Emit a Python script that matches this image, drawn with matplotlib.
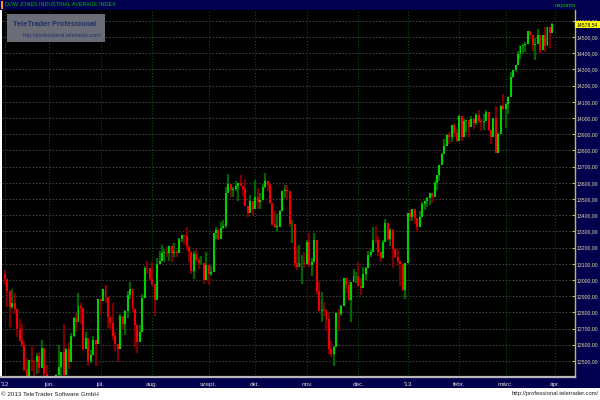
"""Dow Jones daily candles, TeleTrader style (May 2012 - Mar 2013)."""

import numpy as np
import pandas as pd
import matplotlib
matplotlib.use("Agg")
import matplotlib.pyplot as plt
from matplotlib.patches import Rectangle
from matplotlib.ticker import FuncFormatter

# ── data ──
start, end = "2012-05-07", "2013-03-28"
holidays = ["2012-05-28", "2012-07-04", "2012-09-03", "2012-10-29", "2012-10-30",
            "2012-11-22", "2012-12-25", "2013-01-01", "2013-01-21", "2013-02-18"]

first_open = 13038.27

close = [
    # May 2012
    13008.53, 12932.09, 12835.06, 12855.04, 12820.60, 12695.35, 12632.00, 12598.55, 12442.49,
    12369.38, 12504.48, 12502.81, 12496.15, 12529.75, 12454.83, 12580.69, 12419.86, 12393.45,
    # Jun
    12118.57, 12101.46, 12127.95, 12414.79, 12460.96, 12554.20, 12411.23, 12573.80, 12496.38,
    12651.91, 12767.17, 12741.82, 12837.33, 12824.39, 12573.57, 12640.78, 12502.66, 12534.67,
    12627.01, 12602.26, 12880.09,
    # Jul
    12871.39, 12943.82, 12896.67, 12772.47, 12736.29, 12653.12, 12604.53, 12573.27, 12777.09,
    12727.21, 12805.54, 12908.70, 12943.36, 12822.57, 12721.46, 12617.32, 12676.05, 12887.93,
    13075.66, 13073.01, 13008.68,
    # Aug
    12976.13, 12878.88, 13096.17, 13117.51, 13168.60, 13175.64, 13165.19, 13207.95, 13169.43,
    13172.14, 13164.78, 13250.11, 13275.20, 13271.64, 13203.58, 13172.76, 13057.46, 13157.97,
    13124.67, 13102.99, 13107.48, 13000.71, 13090.84,
    # Sep
    13035.94, 13047.48, 13292.00, 13306.64, 13254.29, 13323.36, 13333.35, 13539.86, 13593.37,
    13553.10, 13564.64, 13577.96, 13596.93, 13579.47, 13558.92, 13457.55, 13413.51, 13485.97,
    13437.13,
    # Oct
    13515.11, 13482.36, 13494.61, 13575.36, 13610.15, 13583.65, 13473.53, 13344.97, 13326.39,
    13328.85, 13424.23, 13551.78, 13557.00, 13548.94, 13343.51, 13345.89, 13102.53, 13077.34,
    13103.68, 13107.21, 13096.46,
    # Nov
    13232.62, 13093.16, 13112.44, 13245.68, 12932.73, 12811.32, 12815.39, 12815.08, 12756.18,
    12570.95, 12542.38, 12588.31, 12795.96, 12788.51, 12836.89, 13009.68, 12967.37, 12878.13,
    12985.11, 13021.82, 13025.58,
    # Dec
    12965.60, 12951.78, 13034.49, 13074.04, 13155.13, 13169.88, 13248.44, 13245.45, 13170.72,
    13135.01, 13235.39, 13350.96, 13251.97, 13311.72, 13190.84, 13139.08, 13114.59, 13096.31,
    12938.11, 13104.14,
    # Jan 2013
    13412.55, 13391.36, 13435.21, 13384.29, 13328.85, 13390.51, 13471.22, 13488.43, 13507.32,
    13534.89, 13511.23, 13596.02, 13649.70, 13712.21, 13779.33, 13825.33, 13895.98, 13881.93,
    13954.42, 13910.42, 13860.58,
    # Feb
    14009.79, 13880.08, 13979.30, 13986.52, 13944.05, 13992.97, 13971.24, 14018.70, 13982.91,
    13973.39, 13981.76, 14035.67, 13927.54, 13880.62, 14000.57, 13784.17, 13900.13, 14075.37,
    14054.49,
    # Mar
    14089.66, 14127.82, 14253.77, 14296.24, 14329.49, 14397.07, 14447.29, 14450.06, 14455.28,
    14539.14, 14514.11, 14452.06, 14455.82, 14511.73, 14421.49, 14512.03, 14447.75, 14559.65,
    14526.16, 14578.54,
]

high = [
    13062, 13008, 12932, 12944, 12917, 12820, 12757, 12727, 12616,
    12516, 12506, 12595, 12500, 12547, 12553, 12627, 12580, 12475,
    12391, 12160, 12148, 12419, 12600, 12555, 12729, 12582, 12620,
    12671, 12773, 12794, 12917, 12857, 12826, 12680, 12640, 12570,
    12655, 12627, 12883,
    12880, 12945, 12969, 12897, 12773, 12855, 12681, 12604, 12788,
    12777, 12817, 12932, 12989, 12943, 12822, 12721, 12722, 12914,
    13088, 13117, 13073,
    13109, 12976, 13136, 13176, 13218, 13189, 13201, 13208, 13208,
    13231, 13187, 13262, 13279, 13275, 13330, 13209, 13173, 13176,
    13189, 13134, 13149, 13107, 13173,
    13091, 13089, 13293, 13327, 13321, 13356, 13373, 13573, 13653,
    13593, 13573, 13610, 13597, 13647, 13580, 13621, 13457, 13522,
    13486,
    13620, 13567, 13537, 13594, 13661, 13610, 13593, 13474, 13425,
    13409, 13432, 13552, 13589, 13588, 13549, 13368, 13345, 13203,
    13217, 13152, 13170,
    13247, 13289, 13138, 13290, 13245, 12986, 12928, 12862, 12815,
    12794, 12622, 12593, 12800, 12822, 12843, 13010, 13009, 12995,
    12990, 13068, 13050,
    13111, 13013, 13078, 13079, 13180, 13191, 13330, 13336, 13270,
    13171, 13245, 13374, 13354, 13320, 13312, 13191, 13192, 13114,
    13095, 13107,
    13413, 13431, 13436, 13435, 13384, 13428, 13484, 13488, 13514,
    13536, 13535, 13610, 13650, 13712, 13784, 13872, 13900, 13915,
    13955, 13970, 13930,
    14019, 14010, 14003, 13988, 13990, 14010, 13993, 14033, 14052,
    14000, 14023, 14048, 14036, 13928, 14001, 14076, 13912, 14082,
    14150,
    14090, 14128, 14287, 14298, 14330, 14414, 14448, 14456, 14470,
    14540, 14539, 14514, 14495, 14547, 14512, 14512, 14564, 14560,
    14560, 14585,
]

low = [
    12968, 12833, 12710, 12820, 12787, 12647, 12620, 12584, 12441,
    12330, 12354, 12440, 12311, 12418, 12426, 12455, 12384, 12336,
    12107, 12035, 12064, 12129, 12415, 12389, 12400, 12411, 12450,
    12496, 12648, 12680, 12742, 12730, 12562, 12574, 12469, 12490,
    12535, 12470, 12603,
    12781, 12870, 12859, 12704, 12690, 12631, 12564, 12492, 12573,
    12689, 12660, 12766, 12880, 12800, 12587, 12551, 12617, 12676,
    12888, 13040, 12996,
    12965, 12779, 12880, 13096, 13118, 13112, 13141, 13120, 13111,
    13144, 13141, 13164, 13235, 13224, 13179, 13112, 13040, 13005,
    13112, 13070, 13090, 12977, 12999,
    12966, 13024, 13048, 13256, 13249, 13254, 13313, 13321, 13537,
    13510, 13512, 13550, 13486, 13578, 13521, 13455, 13386, 13413,
    13403,
    13437, 13438, 13441, 13496, 13568, 13550, 13467, 13335, 13321,
    13299, 13329, 13425, 13509, 13501, 13326, 13226, 13083, 13062,
    13078, 12978, 13073,
    13096, 13082, 13023, 13113, 12906, 12810, 12743, 12780, 12684,
    12546, 12525, 12471, 12589, 12686, 12776, 12837, 12921, 12870,
    12743, 12986, 12980,
    12960, 12906, 12952, 12999, 13075, 13140, 13170, 13231, 13150,
    13110, 13135, 13235, 13246, 13207, 13071, 13134, 13088, 12965,
    12935, 12884,
    13104, 13364, 13366, 13345, 13294, 13329, 13391, 13430, 13449,
    13466, 13474, 13511, 13555, 13611, 13712, 13779, 13825, 13842,
    13854, 13880, 13850,
    13860, 13860, 13880, 13916, 13885, 13944, 13933, 13960, 13968,
    13920, 13925, 13981, 13922, 13840, 13881, 13784, 13784, 13900,
    14051,
    13937, 14022, 14129, 14245, 14287, 14330, 14364, 14396, 14410,
    14455, 14485, 14412, 14360, 14456, 14393, 14422, 14406, 14448,
    14433, 14526,
]

month_labels = ["'12", "jún.", "júl.", "aug.", "szept.", "okt.", "nov.", "dec.",
                "'13", "febr.", "márc.", "ápr."]

# ── derived ──
days = pd.bdate_range(start, end)
days = days[~days.isin(pd.to_datetime(holidays))]
assert len(days) == len(close) == len(high) == len(low)

close = np.array(close)
high = np.array(high, dtype=float)
low = np.array(low, dtype=float)
opn = np.concatenate([[first_open], close[:-1]])
x = np.arange(len(close))

# first trading day of each month; April tick sits after the last bar
month_key = days.year * 12 + days.month
month_pos = [0] + [int(i) for i in np.where(np.diff(month_key) != 0)[0] + 1] + [len(close)]

NAVY = "#00004e"
GOLD = "#c8b46a"
FONT = ["Liberation Sans", "DejaVu Sans"]

fig = plt.figure(figsize=(6, 4), dpi=100, facecolor="white")


def band(x0, y0, w, h, color, z=-1):
    # rectangle in pixel coordinates from the top-left corner
    fig.patches.append(Rectangle((x0 / 600, 1 - (y0 + h) / 400), w / 600, h / 400,
                                 transform=fig.transFigure, facecolor=color,
                                 edgecolor="none", zorder=z))


band(0, 0, 600, 10, NAVY)          # title bar
band(575, 10, 25, 378, NAVY)       # price scale
band(0, 377, 600, 11, NAVY)        # date band
band(1, 1, 2, 8, "#ff9900")        # orange marker

ax = fig.add_axes([2 / 600, 23 / 400, 573 / 600, 367 / 400])
ax.set_facecolor("black")

# candles: dark wick, bright body
up = close >= opn
wick_col = np.where(up, "#006400", "#7a0000")
body_col = np.where(up, "#00d200", "#f00000")
ax.vlines(x, low, high, colors=wick_col, linewidth=1.6, zorder=2)
body_lo = np.minimum(opn, close)
body_h = np.maximum(np.abs(close - opn), 4)
ax.bar(x, body_h, bottom=body_lo, width=0.8, color=body_col, linewidth=0, zorder=3)

ax.set_xlim(-1.15, 232.2)
ax.set_ylim(12401, 14667)

# grid
for y in range(12500, 14700, 100):
    ax.axhline(y, color="#4c4c4c", linewidth=0.6, dashes=(2, 2), zorder=1)
for p in month_pos:
    ax.axvline(p, color="#0c5c0c", linewidth=0.7, linestyle=(0, (1, 2)), zorder=1)

# axes cosmetics
for side in ["top", "left", "bottom"]:
    ax.spines[side].set_visible(False)
ax.spines["right"].set_color(GOLD)
ax.spines["right"].set_linestyle((0, (1, 1)))
ax.spines["right"].set_linewidth(1.0)

ax.yaxis.tick_right()
ax.set_yticks(np.arange(12500, 14700, 100))
ax.yaxis.set_major_formatter(FuncFormatter(lambda v, _: f"{v:.2f}".replace(".", ",")))
ax.tick_params(axis="y", direction="in", length=2, color=GOLD, labelcolor="#e2dca8",
               labelsize=3.7, pad=1.5)
for lbl in ax.get_yticklabels():
    lbl.set_family(FONT)

ax.set_xticks(month_pos)
ax.set_xticklabels(month_labels)
ax.tick_params(axis="x", length=0, labelcolor="#d8d8d8", labelsize=4.6, pad=3.5)
for lbl in ax.get_xticklabels():
    lbl.set_family(FONT)

# grey separator above date band
fig.add_artist(plt.Line2D([0, 575 / 600], [23 / 400, 23 / 400], transform=fig.transFigure,
                          color="#b8b8b8", linewidth=1.6))

# last price tag
ax.text(1.003, close[-1], f"{close[-1]:.2f}".replace(".", ","),
        transform=ax.get_yaxis_transform(), fontsize=3.7, family=FONT, color="black",
        va="center", ha="left", clip_on=False, zorder=6,
        bbox=dict(boxstyle="square,pad=0.25", facecolor="#ffff00", edgecolor="none"))

# logo box
band(7, 14, 98, 28, "#6a6c78", z=4)
fig.text(13 / 600, 1 - 25 / 400, "TeleTrader Professional", fontsize=5.3, fontweight="bold",
         family=FONT, color="#23306a", va="center", ha="left", zorder=5)
fig.text(23 / 600, 1 - 36 / 400, "http://professional.teletrader.com/", fontsize=3.8,
         family=FONT, color="#23306a", va="center", ha="left", zorder=5)

# header and footer texts
fig.text(5 / 600, 1 - 5 / 400, "DOW JONES INDUSTRIAL AVERAGE INDEX", fontsize=3.9, family=FONT,
         color="#00c000", va="center", ha="left")
fig.text(555 / 600, 1 - 5 / 400, "naponta", fontsize=4.2, family=FONT,
         color="#00c000", va="center", ha="left")
fig.text(1 / 600, 6 / 400, "© 2013 TeleTrader Software GmbH", fontsize=4.5, family=FONT,
         color="#202020", va="center", ha="left")
fig.text(599 / 600, 6 / 400, "http://professional.teletrader.com/", fontsize=4.2, family=FONT,
         color="#202020", va="center", ha="right")

fig.savefig("out.png", dpi=100, facecolor="white")
plt.close(fig)
